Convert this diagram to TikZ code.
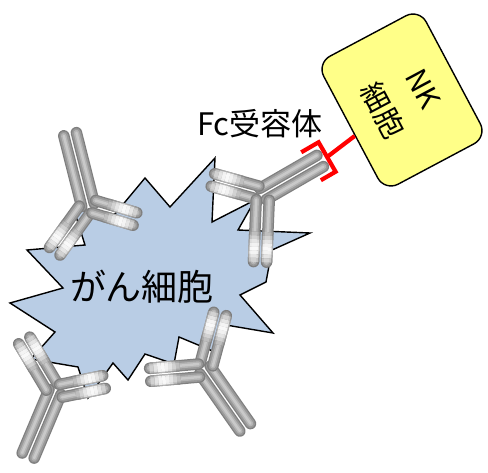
\documentclass[tikz,border=0pt]{standalone}
\usepackage{fontspec}
\setmainfont{Noto Sans CJK JP}
\definecolor{cellblue}{HTML}{B9CDE5}
\definecolor{nkyellow}{HTML}{FFFF88}
\definecolor{rodA}{HTML}{7F7F7F}
\definecolor{rodB}{HTML}{999999}
\definecolor{rodC}{HTML}{B4B4B4}
\definecolor{rodD}{HTML}{C9C9C9}
\definecolor{fcred}{HTML}{FF0000}

% one grey cylinder along the local x axis: y offset, x start, x end
\newcommand\rodline[3]{%
  \draw[line width=11.5pt,color=rodA,line cap=round] (#2,#1) -- (#3,#1);
  \draw[line width=9pt,color=rodB,line cap=round] (#2,#1) -- (#3,#1);
  \draw[line width=5.5pt,color=rodC,line cap=round] (#2,#1) -- (#3,#1);
  \draw[line width=2.5pt,color=rodD,line cap=round] (#2,#1) -- (#3,#1);
}
% pale, fading end of a Fab rod: y offset, x end
\newcommand\rodtip[2]{%
  \foreach \w [count=\i from 0] in {15,40,65,82,92,85,65,40} {
    \pgfmathsetmacro\xa{#2-30+3.75*\i}
    \pgfmathsetmacro\xb{\xa+3.9}
    \pgfmathtruncatemacro\ka{100-0.45*\w}
    \pgfmathtruncatemacro\kb{100-\w}
    \draw[line width=11.5pt,color=rodA!\ka!white] (\xa,#1) -- (\xb,#1);
    \draw[line width=9pt,color=rodB!\kb!white] (\xa,#1) -- (\xb,#1);
    \draw[line width=5.5pt,color=rodC!\kb!white] (\xa,#1) -- (\xb,#1);
  }
}
% a pair of parallel rods (one chain pair)
\newcommand\stempair[1]{\rodline{-6.5}{0}{#1}\rodline{6.5}{0}{#1}}
\newcommand\armpair[1]{\rodline{-6.5}{6}{#1}\rodtip{-6.5}{#1}\rodline{6.5}{6}{#1}\rodtip{6.5}{#1}}
% Y-shaped antibody: hinge, stem angle, stem length, arm angle, arm length, arm angle, arm length
\newcommand\antibody[7]{%
  \begin{scope}[shift={#1}]
    \begin{scope}[rotate={-(#2)}]\stempair{#3}\end{scope}
    \begin{scope}[rotate={-(#4)}]\armpair{#5}\end{scope}
    \begin{scope}[rotate={-(#6)}]\armpair{#7}\end{scope}
  \end{scope}}

\begin{document}
\begin{tikzpicture}[x=1pt,y=-1pt,
  cellfont/.style={font=\fontsize{36}{40}\selectfont},
  labelfont/.style={font=\fontsize{31}{34}\selectfont},
  nkbox/.style={draw=black,line width=1.4pt,fill=nkyellow,rounded corners=15pt,
    minimum width=145pt,minimum height=116pt,align=center,
    font=\fontsize{29}{46}\selectfont},
  receptor/.style={color=fcred,line width=4.2pt}]
\useasboundingbox (0,0) rectangle (488,473);

% cancer cell
\draw[fill=cellblue,line width=1.4pt,line join=miter]
  (145,178) -- (170,207) -- (215,158) -- (212,222) -- (255,200) -- (238,230)
  -- (310,233) -- (272,250) -- (266,282) -- (240,295) -- (273,333) -- (220,324)
  -- (215,352) -- (179,337) -- (174,364) -- (145,354) -- (128,380) -- (113,363)
  -- (88,398) -- (78,367) -- (31,359) -- (55,332) -- (10,303) -- (63,288)
  -- (27,250) -- (85,245) -- (74,210) -- (115,214) -- cycle;
\node[cellfont] (cancer) at (142,287) {がん細胞};

% antibodies bound to the cell
\antibody{(88,205)}{-104.2}{73}{125.7}{57}{16.6}{49}
\antibody{(205,370)}{55}{70}{-75}{58}{175}{55}
\antibody{(55,392)}{112.9}{69}{239.2}{60}{-11.5}{50}

% antibody held by the Fc receptor
\antibody{(263,194)}{-30}{66}{195.6}{52}{92.5}{68}
\begin{scope}[shift={(263,194)},rotate=30]
  \draw[receptor] (54,-17) -- (74,-17) -- (74,17) -- (57,17);
  \coordinate (fcback) at (74,0);
\end{scope}

\node[labelfont] (fclabel) at (260,124) {Fc受容体};

% NK cell and its receptor stalk
\node[nkbox,rotate=-62] (nk) at (402,100) {NK\\細胞};
\draw[receptor] (fcback) -- (nk);
\end{tikzpicture}
\end{document}
